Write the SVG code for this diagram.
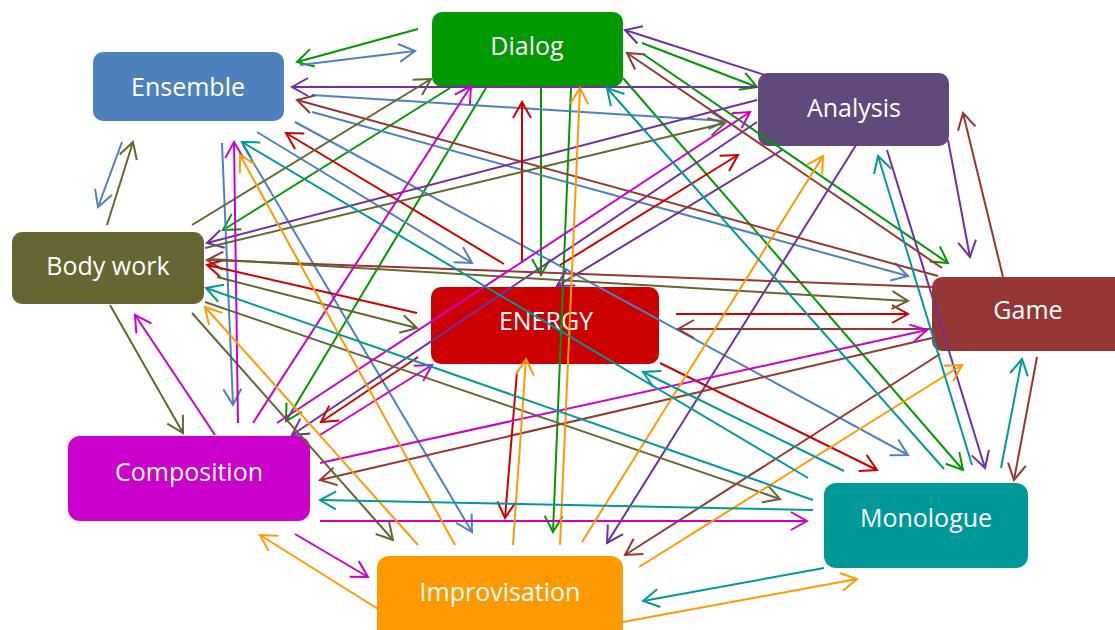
<svg xmlns="http://www.w3.org/2000/svg" width="1115" height="630" viewBox="0 0 1115 630">
<style>
.lbl{font-family:"Open Sans","Noto Sans",sans-serif;font-size:25px;fill:#FFFFFF;text-anchor:middle}
.c line{stroke-width:2;fill:none}
.g{stroke:#009900;marker-end:url(#mg)}
.b{stroke:#4F81BD;marker-end:url(#mb)}
.p{stroke:#7030A0;marker-end:url(#mp)}
.r{stroke:#953735;marker-end:url(#mr)}
.e{stroke:#CC0000;marker-end:url(#me)}
.o{stroke:#666633;marker-end:url(#mo)}
.m{stroke:#CC00CC;marker-end:url(#mm)}
.y{stroke:#FF9900;marker-end:url(#my)}
.t{stroke:#009999;marker-end:url(#mt)}
</style>
<defs>
<marker id="mg" markerUnits="userSpaceOnUse" markerWidth="20" markerHeight="20" orient="auto" overflow="visible"><path d="M-16,-9 L0,0 L-16,9" fill="none" stroke="#009900" stroke-width="2"/></marker>
<marker id="mb" markerUnits="userSpaceOnUse" markerWidth="20" markerHeight="20" orient="auto" overflow="visible"><path d="M-16,-9 L0,0 L-16,9" fill="none" stroke="#4F81BD" stroke-width="2"/></marker>
<marker id="mp" markerUnits="userSpaceOnUse" markerWidth="20" markerHeight="20" orient="auto" overflow="visible"><path d="M-16,-9 L0,0 L-16,9" fill="none" stroke="#7030A0" stroke-width="2"/></marker>
<marker id="mr" markerUnits="userSpaceOnUse" markerWidth="20" markerHeight="20" orient="auto" overflow="visible"><path d="M-16,-9 L0,0 L-16,9" fill="none" stroke="#953735" stroke-width="2"/></marker>
<marker id="me" markerUnits="userSpaceOnUse" markerWidth="20" markerHeight="20" orient="auto" overflow="visible"><path d="M-16,-9 L0,0 L-16,9" fill="none" stroke="#CC0000" stroke-width="2"/></marker>
<marker id="mo" markerUnits="userSpaceOnUse" markerWidth="20" markerHeight="20" orient="auto" overflow="visible"><path d="M-16,-9 L0,0 L-16,9" fill="none" stroke="#666633" stroke-width="2"/></marker>
<marker id="mm" markerUnits="userSpaceOnUse" markerWidth="20" markerHeight="20" orient="auto" overflow="visible"><path d="M-16,-9 L0,0 L-16,9" fill="none" stroke="#CC00CC" stroke-width="2"/></marker>
<marker id="my" markerUnits="userSpaceOnUse" markerWidth="20" markerHeight="20" orient="auto" overflow="visible"><path d="M-16,-9 L0,0 L-16,9" fill="none" stroke="#FF9900" stroke-width="2"/></marker>
<marker id="mt" markerUnits="userSpaceOnUse" markerWidth="20" markerHeight="20" orient="auto" overflow="visible"><path d="M-16,-9 L0,0 L-16,9" fill="none" stroke="#009999" stroke-width="2"/></marker>
</defs>
<rect width="1115" height="630" fill="#FFFFFF"/>
<g id="ensemble"><rect x="93" y="52" width="191" height="69" rx="10" fill="#4F81BD"/><text class="lbl" x="188" y="96">Ensemble</text></g>
<g id="dialog"><rect x="432" y="12" width="191" height="75" rx="10" fill="#009900"/><text class="lbl" x="527" y="55">Dialog</text></g>
<g id="analysis"><rect x="758" y="73" width="191" height="73" rx="10" fill="#604A7B"/><text class="lbl" x="854" y="117">Analysis</text></g>
<g id="bodywork"><rect x="12" y="232" width="192" height="72" rx="10" fill="#666633"/><text class="lbl" x="108" y="275">Body work</text></g>
<g id="energy"><rect x="431" y="287" width="228" height="77" rx="10" fill="#CC0000"/><text class="lbl" x="546" y="330">ENERGY</text></g>
<g id="game"><rect x="932" y="277" width="195" height="74" rx="10" fill="#953735"/><text class="lbl" x="1028" y="319">Game</text></g>
<g id="composition"><rect x="68" y="436" width="242" height="85" rx="12" fill="#CC00CC"/><text class="lbl" x="189" y="481">Composition</text></g>
<g id="improvisation"><rect x="377" y="556" width="246" height="90" rx="12" fill="#FF9900"/><text class="lbl" x="500" y="601">Improvisation</text></g>
<g id="monologue"><rect x="824" y="483" width="204" height="85" rx="12" fill="#009999"/><text class="lbl" x="926" y="527">Monologue</text></g>
<g id="connectors" class="c">
<line class="g" x1="418" y1="29" x2="297" y2="62"/>
<line class="g" x1="450" y1="88" x2="223" y2="230"/>
<line class="g" x1="486" y1="88" x2="286" y2="421"/>
<line class="g" x1="541" y1="88" x2="541" y2="275"/>
<line class="g" x1="571" y1="88" x2="553" y2="532"/>
<line class="g" x1="642" y1="43" x2="757" y2="87"/>
<line class="g" x1="643" y1="54" x2="948" y2="263"/>
<line class="g" x1="623" y1="78" x2="963" y2="470"/>
<line class="b" x1="300" y1="65" x2="415" y2="51"/>
<line class="b" x1="312" y1="95" x2="725" y2="121"/>
<line class="b" x1="122" y1="142" x2="98" y2="207"/>
<line class="b" x1="222" y1="143" x2="233" y2="405"/>
<line class="b" x1="257" y1="132" x2="472" y2="263"/>
<line class="b" x1="243" y1="145" x2="472" y2="532"/>
<line class="b" x1="295" y1="122" x2="908" y2="455"/>
<line class="b" x1="312" y1="112" x2="908" y2="276"/>
<line class="p" x1="768" y1="76" x2="625" y2="30"/>
<line class="p" x1="757" y1="87" x2="292" y2="87"/>
<line class="p" x1="757" y1="100" x2="207" y2="243"/>
<line class="p" x1="757" y1="122" x2="292" y2="435"/>
<line class="p" x1="782" y1="150" x2="557" y2="286"/>
<line class="p" x1="858" y1="142" x2="607" y2="543"/>
<line class="p" x1="887" y1="150" x2="985" y2="468"/>
<line class="p" x1="948" y1="140" x2="970" y2="257"/>
<line class="r" x1="1003" y1="277" x2="963" y2="113"/>
<line class="r" x1="942" y1="268" x2="627" y2="53"/>
<line class="r" x1="938" y1="276" x2="297" y2="100"/>
<line class="r" x1="932" y1="287" x2="207" y2="260"/>
<line class="r" x1="932" y1="329" x2="678" y2="329"/>
<line class="r" x1="932" y1="338" x2="320" y2="480"/>
<line class="r" x1="940" y1="354" x2="625" y2="555"/>
<line class="r" x1="1037" y1="357" x2="1014" y2="480"/>
<line class="e" x1="522" y1="263" x2="522" y2="102"/>
<line class="e" x1="504" y1="264" x2="286" y2="133"/>
<line class="e" x1="417" y1="313" x2="207" y2="265"/>
<line class="e" x1="418" y1="357" x2="321" y2="422"/>
<line class="e" x1="560" y1="265" x2="738" y2="155"/>
<line class="e" x1="517" y1="372" x2="505" y2="518"/>
<line class="e" x1="660" y1="363" x2="877" y2="470"/>
<line class="e" x1="676" y1="314" x2="908" y2="314"/>
<line class="o" x1="107" y1="225" x2="133" y2="142"/>
<line class="o" x1="192" y1="225" x2="431" y2="79"/>
<line class="o" x1="205" y1="248" x2="725" y2="123"/>
<line class="o" x1="210" y1="259" x2="908" y2="301"/>
<line class="o" x1="217" y1="277" x2="417" y2="328"/>
<line class="o" x1="205" y1="302" x2="780" y2="499"/>
<line class="o" x1="192" y1="313" x2="393" y2="540"/>
<line class="o" x1="110" y1="305" x2="183" y2="433"/>
<line class="m" x1="215" y1="435" x2="135" y2="315"/>
<line class="m" x1="238" y1="423" x2="234" y2="142"/>
<line class="m" x1="253" y1="423" x2="471" y2="86"/>
<line class="m" x1="277" y1="423" x2="750" y2="112"/>
<line class="m" x1="320" y1="435" x2="432" y2="365"/>
<line class="m" x1="320" y1="463" x2="927" y2="330"/>
<line class="m" x1="320" y1="521" x2="807" y2="521"/>
<line class="m" x1="295" y1="534" x2="368" y2="577"/>
<line class="y" x1="378" y1="609" x2="260" y2="535"/>
<line class="y" x1="418" y1="545" x2="205" y2="307"/>
<line class="y" x1="455" y1="545" x2="240" y2="155"/>
<line class="y" x1="513" y1="545" x2="526" y2="359"/>
<line class="y" x1="560" y1="545" x2="580" y2="88"/>
<line class="y" x1="582" y1="542" x2="823" y2="156"/>
<line class="y" x1="639" y1="567" x2="962" y2="365"/>
<line class="y" x1="623" y1="622" x2="857" y2="579"/>
<line class="t" x1="824" y1="568" x2="643" y2="601"/>
<line class="t" x1="813" y1="510" x2="320" y2="500"/>
<line class="t" x1="813" y1="500" x2="206" y2="288"/>
<line class="t" x1="844" y1="471" x2="643" y2="372"/>
<line class="t" x1="808" y1="478" x2="242" y2="142"/>
<line class="t" x1="944" y1="469" x2="607" y2="88"/>
<line class="t" x1="972" y1="465" x2="878" y2="156"/>
<line class="t" x1="1001" y1="468" x2="1022" y2="359"/>
</g>
</svg>
